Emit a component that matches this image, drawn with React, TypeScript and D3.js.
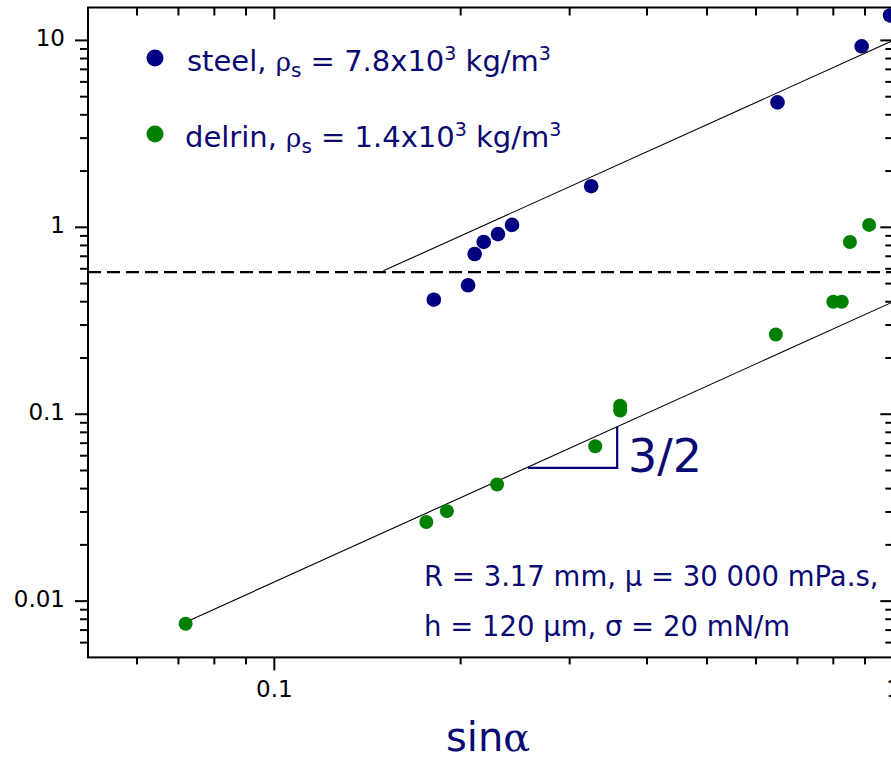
import React from 'react';
import * as d3 from 'd3';

// ---- data ----
const steelX = [0.181, 0.2056, 0.2107, 0.2179, 0.2298, 0.2421, 0.325, 0.65, 0.889, 0.988];
const steelY = [0.41, 0.49, 0.72, 0.835, 0.92, 1.03, 1.66, 4.66, 9.3, 13.6];
const delrinX = [0.0719, 0.176, 0.19, 0.229, 0.33, 0.362, 0.362, 0.646, 0.8, 0.8255, 0.851, 0.914];
const delrinY = [0.00757, 0.0265, 0.0303, 0.0421, 0.0674, 0.111, 0.1047, 0.267, 0.4, 0.4, 0.835, 1.03];
const fitSteelX = [0.15, 1];
const fitSteelY = [0.585, 10];
const fitDelrinX = [0.0701, 1];
const fitDelrinY = [0.00743, 0.4];
const thresholdY = 0.576;
const slopeX = [0.257, 0.358, 0.358];
const slopeY = [0.0517, 0.0517, 0.0857];
const xTickValues = [0.1, 1];
const xTickLabels = ['0.1', '1'];
const yTickValues = [0.01, 0.1, 1, 10];
const yTickLabels = ['0.01', '0.1', '1', '10'];
const xDomain = [0.05, 1];
const yDomain = [0.005, 15];

const NAVY = '#000080';
const TEXTNAVY = '#0a0a72';
const GREEN = '#008000';
const FONT = "'Comic Sans MS', 'DejaVu Sans', sans-serif";
const TICKFONT = "'DejaVu Sans', sans-serif";

export default function App() {
  const W = 891, H = 764;
  const left = 88, right = 893.3, top = 7.5, bottom = 657.4;
  const x = d3.scaleLog().domain(xDomain).range([left, right]);
  const y = d3.scaleLog().domain(yDomain).range([bottom, top]);

  const isMajor = (v: number) => Math.abs(Math.log10(v) - Math.round(Math.log10(v))) < 1e-9;
  const xTicks = x.ticks().filter((v) => (v > xDomain[0] * 1.0001 && v < xDomain[1] * 0.9999) || isMajor(v));
  const yTicks = y.ticks().filter((v) => v > yDomain[0] * 1.0001 && v < yDomain[1] * 0.9999);

  const line = d3.line<[number, number]>().x((d) => x(d[0])).y((d) => y(d[1]));
  const steelFit = line(fitSteelX.map((v, i) => [v, fitSteelY[i]]));
  const delrinFit = line(fitDelrinX.map((v, i) => [v, fitDelrinY[i]]));
  const slope = line(slopeX.map((v, i) => [v, slopeY[i]]));

  return (
    <svg width={W} height={H} style={{ position: 'absolute', left: 0, top: 0, background: '#fff' }}>
      {/* fit lines */}
      <path d={steelFit || ''} stroke="#000" strokeWidth={1.1} fill="none" />
      <path d={delrinFit || ''} stroke="#000" strokeWidth={1.1} fill="none" />
      {/* threshold dashed */}
      <line x1={left} x2={right} y1={y(thresholdY)} y2={y(thresholdY)} stroke="#000" strokeWidth={2.4} strokeDasharray="13 6" />
      {/* slope triangle */}
      <path d={slope || ''} stroke={NAVY} strokeWidth={2.2} fill="none" />
      <text x={628} y={472} fontFamily={FONT} fontSize={46} fill={TEXTNAVY}>3/2</text>

      {/* points */}
      {steelX.map((v, i) => (
        <circle key={'s' + i} cx={x(v)} cy={y(steelY[i])} r={7.3} fill={NAVY} />
      ))}
      {delrinX.map((v, i) => (
        <circle key={'d' + i} cx={x(v)} cy={y(delrinY[i])} r={7} fill={GREEN} />
      ))}

      {/* frame */}
      <rect x={left} y={top} width={right - left} height={bottom - top} fill="none" stroke="#000" strokeWidth={2} />

      {/* x ticks */}
      {xTicks.map((v, i) => {
        const mj = isMajor(v);
        return (
          <g key={'xt' + i}>
            <line x1={x(v)} x2={x(v)} y1={bottom} y2={bottom + (mj ? 13 : 7)} stroke="#000" strokeWidth={2} />
            <line x1={x(v)} x2={x(v)} y1={top} y2={top + (mj ? 12 : 8)} stroke="#000" strokeWidth={2} />
          </g>
        );
      })}
      {xTickValues.map((v, i) => (
        <text key={'xl' + i} x={x(v)} y={697} textAnchor="middle" fontFamily={TICKFONT} fontSize={23} fill="#000">{xTickLabels[i]}</text>
      ))}

      {/* y ticks */}
      {yTicks.map((v, i) => {
        const mj = isMajor(v);
        return (
          <g key={'yt' + i}>
            <line x1={left} x2={left - (mj ? 13 : 8)} y1={y(v)} y2={y(v)} stroke="#000" strokeWidth={2} />
            <line x1={right} x2={right - (mj ? 13 : 8)} y1={y(v)} y2={y(v)} stroke="#000" strokeWidth={2} />
          </g>
        );
      })}
      {yTickValues.map((v, i) => (
        <text key={'yl' + i} x={65} y={y(v) + 6} textAnchor="end" fontFamily={TICKFONT} fontSize={23} fill="#000">{yTickLabels[i]}</text>
      ))}

      {/* x axis title */}
      <text x={446} y={751} fontFamily={FONT} fontSize={40} fill={TEXTNAVY}>
        sin<tspan fontFamily="'DejaVu Serif', serif">α</tspan>
      </text>

      {/* legend */}
      <circle cx={155} cy={58} r={8.5} fill={NAVY} />
      <text x={187} y={71} fontFamily={FONT} fontSize={29} fill={TEXTNAVY}>
        steel, <tspan fontFamily="'DejaVu Serif', serif" fontSize={26}>ρ</tspan><tspan fontSize={20} dy={6}>s</tspan><tspan dy={-6}> = 7.8x10</tspan><tspan fontSize={19} dy={-11}>3</tspan><tspan dy={11}> kg/m</tspan><tspan fontSize={19} dy={-11}>3</tspan>
      </text>
      <circle cx={155} cy={134} r={8.5} fill={GREEN} />
      <text x={185} y={147} fontFamily={FONT} fontSize={29} fill={TEXTNAVY}>
        delrin, <tspan fontFamily="'DejaVu Serif', serif" fontSize={26}>ρ</tspan><tspan fontSize={20} dy={6}>s</tspan><tspan dy={-6}> = 1.4x10</tspan><tspan fontSize={19} dy={-11}>3</tspan><tspan dy={11}> kg/m</tspan><tspan fontSize={19} dy={-11}>3</tspan>
      </text>

      {/* parameters annotation */}
      <text x={424} y={586} fontFamily={FONT} fontSize={27.5} fill={TEXTNAVY}>
        R = 3.17 mm, μ = 30 000 mPa.s,
      </text>
      <text x={424} y={636} fontFamily={FONT} fontSize={27.5} fill={TEXTNAVY}>
        h = 120 μm, σ = 20 mN/m
      </text>
    </svg>
  );
}
